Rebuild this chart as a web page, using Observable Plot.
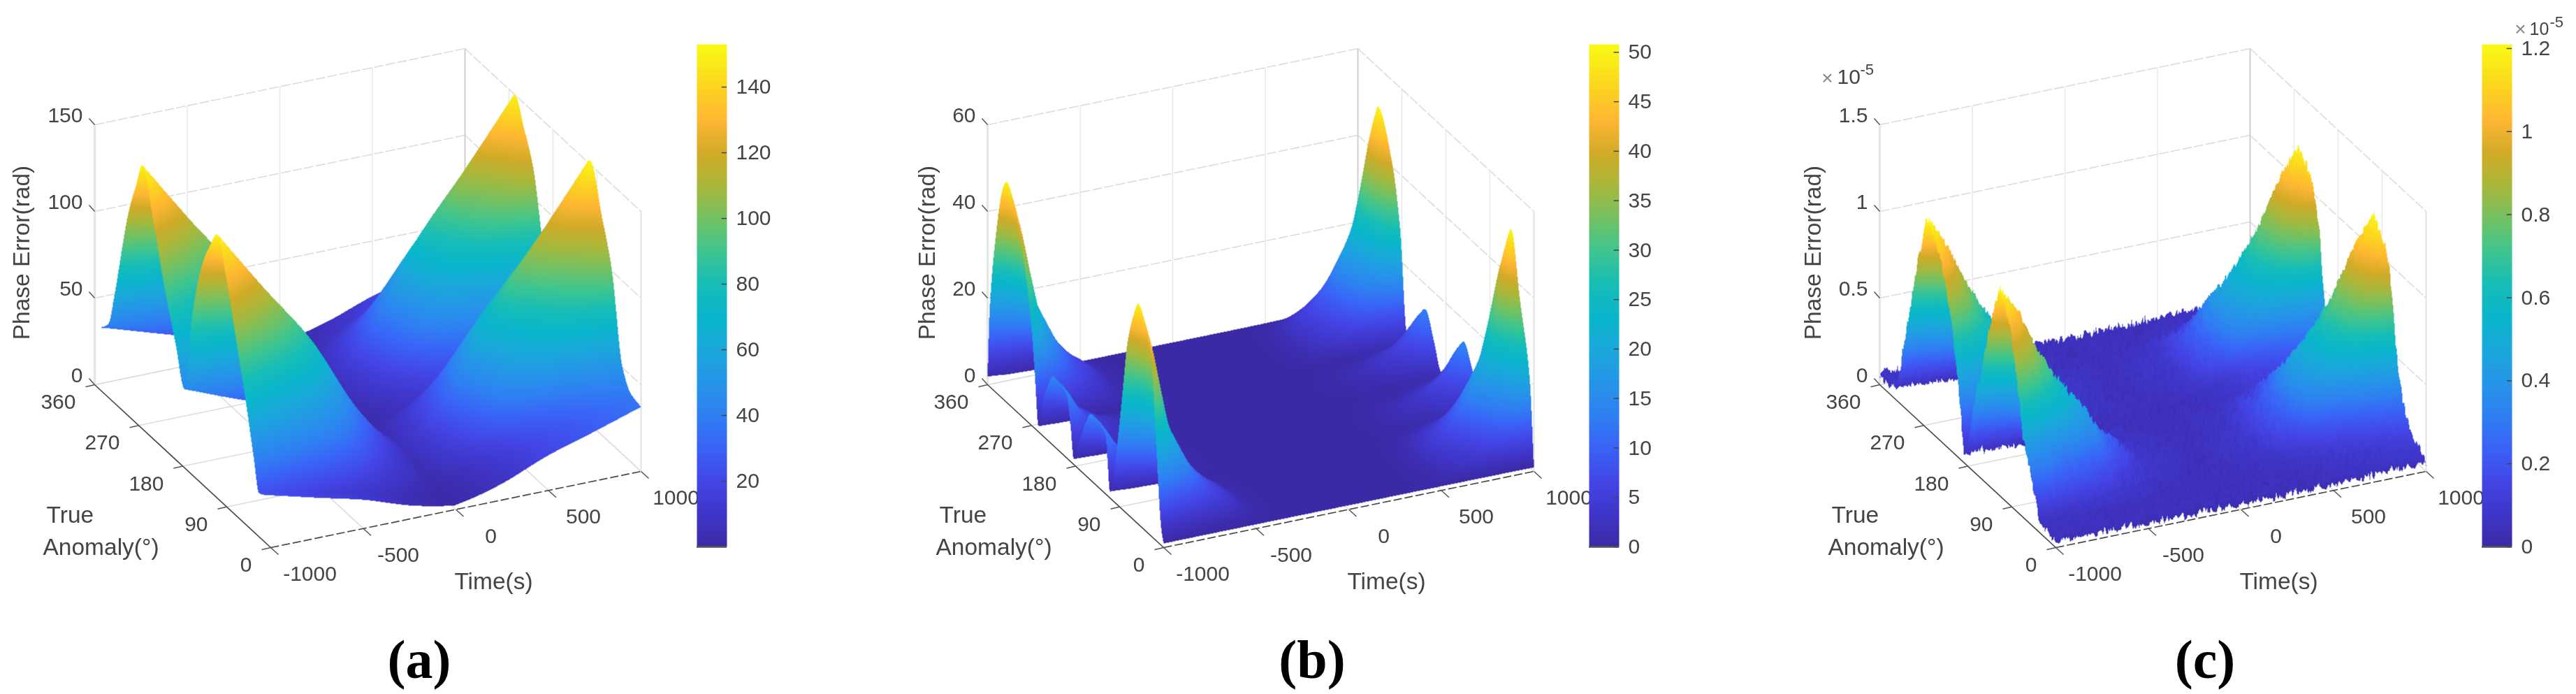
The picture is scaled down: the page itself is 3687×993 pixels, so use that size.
<!DOCTYPE html>
<html><head><meta charset="utf-8">
<script src="https://cdn.jsdelivr.net/npm/d3@7"></script>
<script src="https://cdn.jsdelivr.net/npm/@observablehq/plot@0.6"></script>
<style>
html,body{margin:0;padding:0;background:#fff}
#fig{position:relative;width:3687px;height:993px;overflow:hidden;background:#fff;filter:blur(.6px)}
#fig svg{position:absolute;top:0;background:transparent;max-width:none}
.cap{position:absolute;top:899px;font:bold 78px "Liberation Serif",serif;color:#000;transform:translateX(-50%)}
</style></head><body><div id="fig"></div>
<script>
// Values: phase error cross-sections at t = -1000 s and t = +1000 s against true anomaly,
// and the fall-off of those cross-sections with |time|.
const timeTicks=[-1000,-500,0,500,1000];
const anomalyTicks=[0,90,180,270,360];

const aAnomalyNeg=[0,12,24,35,51,68,91,108,125,143,160,177,194,217,240,262,276,291,320,331,345,360];
const aEdgeNeg=[29,26,24,42,70,96,131,151,140,122,92,44,65,92,125,151,135,116,60,42,36,32];
const aAnomalyPos=[0,20,38,60,80,103,125,143,160,177,190,203,220,240,257,276,291,320,335,345,360];
const aEdgePos=[36,38,49,100,125,151,135,115,85,48,58,82,116,135,149,130,110,60,42,35,32];
const aTime=[0,100,250,500,750,1000];
const aFalloff=[.04,.1,.23,.53,.76,1];
const aZTicks=[0,50,100,150];
const aBarTicks=[20,40,60,80,100,120,140];

const bAnomalyNeg=[0,5,11,17,26,38,51,62,74,84,93,102,110,114,118,132,147,160,173,184,190,198,212,226,237,246,256,263,271,288,305,320,328,345,356,360];
const bEdgeNeg=[0,3,12.7,25.6,41,47,50,46,38.5,26,15,5,.5,6,12.5,14,14.5,11,5,.3,7,13.5,14.8,15,11.5,7.6,.3,11,23,37,46,50,48,33,16,1];
const bAnomalyPos=[0,9,29,46,60,80,100,114,125,143,160,175,189,205,221,240,259,274,290,318,335,350,360];
const bEdgePos=[0,20,36,50,44,27.6,12,5,9,14,9,4,2,8,13.3,9,3,27,40,50,38,15,1];
const bTime=[0,350,472,590,650,740,800,887,934,970,1000];
const bFalloff=[0,.002,.025,.1,.14,.23,.33,.51,.72,.9,1];
const bZTicks=[0,20,40,60];
const bBarTicks=[0,5,10,15,20,25,30,35,40,45,50];

const cAnomalyNeg=[0,27,40,56,67,79,95,113,128,145,165,187,199,227,245,262,280,296,313,324,340,360];
const cEdgeNeg=[.01,.01,.1,.3,.42,.72,1,1.15,.98,.7,.38,.03,.38,.92,1.08,1.16,.9,.6,.27,.08,.02,.02];
const cAnomalyPos=[0,31,48,59,77,90,105,125,145,165,187,206,219,237,260,280,296,313,324,340,360];
const cEdgePos=[.02,.11,.24,.47,.96,1.08,1.15,.98,.7,.4,.18,.34,.81,1.05,1.14,.9,.6,.27,.1,.03,.02];
const cTime=[0,250,288,400,466,558,642,824,900,1000];
const cFalloff=[0,.03,.04,.13,.18,.33,.42,.69,.85,1];
const cZTicks=[0,.5,1,1.5];
const cBarTicks=[0,.2,.4,.6,.8,1,1.2];
// surface roughness of panel (c), in 1e-5 rad
const cRough=[.018,.048,.03,.066,.012,.042,.06,.024,.036,.072,.006,.054,.03,.018,.06,.042,.012,.066,.036,.024,.054,.078,.018,.042,.03,.06,.012,.048,.072,.024,.036,.054,.018,.066,.042,.006,.06,.03,.048,.018,.072,.036,.012,.054,.024,.066,.042,.03,.06,.018,.048,.006,.036,.078,.024,.054,.012,.042,.066,.03];

// colour map as sampled from the colour bars (fractions of the bar's height)
const parulaStops=[0,.065,.13,.196,.261,.327,.392,.458,.523,.588,.654,.719,.784,.85,.915,1];
const parulaColors=["#3b2aa5","#3f35c8","#4346e6","#3a62f7","#2f80f2","#2595e8","#1ba8db","#0ab6cc","#17bdb7","#3ec590","#74c162","#a9b83c","#d2ab28","#ffb733","#fbd51f","#f9fb15"];

const axisGeom={F:[387,783],R:[917,674],L:[135,550],H:372};
const W=1125,H=993;

function curve(xs,ys){ // monotone cubic through the read points, to shade between them
  const n=xs.length,d=[],m=new Array(n);
  for(let i=0;i<n-1;i++)d[i]=(ys[i+1]-ys[i])/(xs[i+1]-xs[i]);
  m[0]=d[0];m[n-1]=d[n-2];
  for(let i=1;i<n-1;i++)m[i]=d[i-1]*d[i]<=0?0:2*d[i-1]*d[i]/(d[i-1]+d[i]);
  return x=>{
    let i=Math.min(n-2,Math.max(0,d3.bisectRight(xs,x)-1));
    const h=xs[i+1]-xs[i],s=(x-xs[i])/h,s2=s*s,s3=s2*s;
    return (2*s3-3*s2+1)*ys[i]+(s3-2*s2+s)*h*m[i]+(-2*s3+3*s2)*ys[i+1]+(s3-s2)*h*m[i+1];
  };
}
const G=axisGeom;
function proj(t,a,zFrac,lift=0){
  const u=(t+1000)/2000,v=a/360;
  return [G.F[0]+u*(G.R[0]-G.F[0])+v*(G.L[0]-G.F[0]),
          G.F[1]+u*(G.R[1]-G.F[1])+v*(G.L[1]-G.F[1])-zFrac*G.H-lift];
}
function surface(p){
  const buf=new Float32Array(W*H).fill(NaN);
  const eN=curve(p.anomalyNeg,p.edgeNeg),eP=curve(p.anomalyPos,p.edgePos),T=curve(p.time,p.falloff);
  const dt=p.dt,da=p.da,nt=Math.round(2000/dt),na=Math.round(360/da);
  const Z=[],PX=[],PY=[];
  for(let j=0;j<=na;j++){
    const a=j*da,zr=[],xr=[],yr=[];
    for(let i=0;i<=nt;i++){
      const t=-1000+i*dt;
      let z=(t<0?eN:eP)(a)*T(Math.abs(t));
      if(p.rough)z+=p.rough[(i*13+j*29+(i*j)%7)%p.rough.length];
      z=Math.max(0,z);
      const q=proj(t,a,z/p.zTop,p.lift);
      zr.push(z);xr.push(q[0]);yr.push(q[1]);
    }
    Z.push(zr);PX.push(xr);PY.push(yr);
  }
  function tri(x0,y0,z0,x1,y1,z1,x2,y2,z2){
    const den=(y1-y2)*(x0-x2)+(x2-x1)*(y0-y2);
    if(Math.abs(den)<1e-9)return;
    const xa=Math.max(0,Math.floor(Math.min(x0,x1,x2))),xb=Math.min(W-1,Math.ceil(Math.max(x0,x1,x2)));
    const ya=Math.max(0,Math.floor(Math.min(y0,y1,y2))),yb=Math.min(H-1,Math.ceil(Math.max(y0,y1,y2)));
    for(let y=ya;y<=yb;y++)for(let x=xa;x<=xb;x++){
      const px=x+.5,py=y+.5;
      const w0=((y1-y2)*(px-x2)+(x2-x1)*(py-y2))/den;
      const w1=((y2-y0)*(px-x2)+(x0-x2)*(py-y2))/den;
      const w2=1-w0-w1;
      if(w0<-.02||w1<-.02||w2<-.02)continue;
      buf[y*W+x]=w0*z0+w1*z1+w2*z2;
    }
  }
  for(let j=na-1;j>=0;j--)for(let i=nt-1;i>=0;i--){
    tri(PX[j][i],PY[j][i],Z[j][i],PX[j][i+1],PY[j][i+1],Z[j][i+1],PX[j+1][i+1],PY[j+1][i+1],Z[j+1][i+1]);
    tri(PX[j][i],PY[j][i],Z[j][i],PX[j+1][i+1],PY[j+1][i+1],Z[j+1][i+1],PX[j+1][i],PY[j+1][i],Z[j+1][i]);
  }
  return buf;
}
function colorScale(max){
  return {type:"linear",domain:parulaStops.map(s=>s*max),range:parulaColors,clamp:true};
}
const seg=(a,b)=>({x1:a[0],y1:a[1],x2:b[0],y2:b[1]});
const LINK={x1:"x1",y1:"y1",x2:"x2",y2:"y2"};
const font='"Liberation Sans",Arial,sans-serif',ink="#444444";

function panel(p){
  const zf=z=>z/p.zTop;
  const wallZ=p.zTicks.flatMap(z=>[seg(proj(-1000,360,zf(z)),proj(1000,360,zf(z))),seg(proj(1000,360,zf(z)),proj(1000,0,zf(z)))]);
  const wallT=timeTicks.slice(1,-1).map(t=>seg(proj(t,360,0),proj(t,360,1)));
  const wallA=anomalyTicks.slice(1,-1).map(a=>seg(proj(1000,a,0),proj(1000,a,1)));
  const floorT=timeTicks.slice(1).map(t=>seg(proj(t,0,0),proj(t,360,0)));
  const floorA=anomalyTicks.slice(1).map(a=>seg(proj(-1000,a,0),proj(1000,a,0)));
  const shift=(q,dx,dy)=>[q[0]+dx,q[1]+dy];
  const zT=p.zTicks.map(z=>({q:proj(-1000,360,zf(z)),s:String(z)}));
  const tT=timeTicks.map(t=>({q:proj(t,0,0),s:String(t)}));
  const aT=anomalyTicks.map(a=>({q:proj(-1000,a,0),s:String(a)}));
  const marks=[
    Plot.link(wallZ,{...LINK,stroke:"#dcdcdc",strokeWidth:1.6,strokeDasharray:"14 3"}),
    Plot.link(floorT.concat(floorA),{...LINK,stroke:"#dcdcdc",strokeWidth:1.6}),
    Plot.link(wallT.concat(wallA),{...LINK,stroke:"#e9e9e9",strokeWidth:1.6}),
    Plot.link([seg(proj(-1000,360,0),proj(-1000,360,1))],{...LINK,stroke:"#e6e6e6",strokeWidth:3.5}),
    Plot.link([seg(proj(1000,360,0),proj(1000,360,1))],{...LINK,stroke:"#cfcfcf",strokeWidth:2}),
    Plot.link([seg(proj(1000,0,0),proj(1000,0,1))],{...LINK,stroke:"#e2e2e2",strokeWidth:2}),
    Plot.link([seg(proj(-1000,360,0),proj(-1000,0,0))],{...LINK,stroke:"#4a4a4a",strokeWidth:1.7}),
    Plot.link([seg(proj(-1000,0,0),proj(1000,0,0))],{...LINK,stroke:"#4a4a4a",strokeWidth:1.7,strokeDasharray:"12 4"}),
    Plot.link(tT.map(d=>seg(d.q,shift(d.q,11,10))),{...LINK,stroke:"#555",strokeWidth:1.5}),
    Plot.link(aT.map(d=>seg(d.q,shift(d.q,-13,3))),{...LINK,stroke:"#555",strokeWidth:1.5}),
    Plot.link(zT.map(d=>seg(d.q,shift(d.q,-8,-9))),{...LINK,stroke:"#555",strokeWidth:1.5}),
    Plot.raster(surface(p),{width:W,height:H,x1:0,x2:W,y1:0,y2:H,fill:Plot.identity,imageRendering:"auto"}),
    Plot.text(tT,{x:d=>d.q[0]+(d.s==="-1000"?56:50),y:d=>d.q[1]+38,text:"s",fontSize:30,fill:ink,fontFamily:font}),
    Plot.text(aT,{x:d=>d.q[0]-27,y:d=>d.q[1]+25,text:"s",textAnchor:"end",fontSize:30,fill:ink,fontFamily:font}),
    Plot.text(zT,{x:d=>d.q[0]-17,y:d=>d.q[1]-13,text:"s",textAnchor:"end",fontSize:30,fill:ink,fontFamily:font}),
    Plot.text([{x:p.labelX,y:361,s:"Phase Error(rad)"}],{x:"x",y:"y",text:"s",rotate:-90,fontSize:33.5,fill:ink,fontFamily:font}),
    Plot.text([{x:66,y:737,s:"True"},{x:61,y:783,s:"Anomaly(°)"}],{x:"x",y:"y",text:"s",textAnchor:"start",fontSize:33.5,fill:ink,fontFamily:font}),
    Plot.text([{x:706,y:832,s:"Time(s)"}],{x:"x",y:"y",text:"s",fontSize:33.5,fill:ink,fontFamily:font})
  ];
  if(p.exp){
    marks.push(
      Plot.text([{x:60,y:112,s:"×"},{x:1052,y:42,s:"×"}],{x:"x",y:"y",text:"s",fontSize:28,fill:"#888",fontFamily:font}),
      Plot.text([{x:74,y:110,s:"10"}],{x:"x",y:"y",text:"s",textAnchor:"start",fontSize:30,fill:ink,fontFamily:font}),
      Plot.text([{x:1065,y:41,s:"10"}],{x:"x",y:"y",text:"s",textAnchor:"start",fontSize:25,fill:ink,fontFamily:font}),
      Plot.text([{x:107,y:99,s:"-5"},{x:1094,y:31,s:"-5"}],{x:"x",y:"y",text:"s",textAnchor:"start",fontSize:22,fill:ink,fontFamily:font})
    );
  }
  const svg=Plot.plot({width:W,height:H,margin:0,
    x:{domain:[0,W],range:[0,W],axis:null},y:{domain:[0,H],range:[0,H],axis:null},
    color:colorScale(p.barMax),marks});
  svg.style.left=p.left+"px";
  return svg;
}
function colorbar(p){
  const levels=d3.range(256).map(i=>p.barMax*(255-i+.5)/256);
  const svg=Plot.plot({width:150,height:H,marginLeft:0,marginRight:107,marginTop:63,marginBottom:H-782,
    x:{domain:[0,1],axis:null},y:{domain:[0,p.barMax],axis:null},
    color:colorScale(p.barMax),
    style:{fontFamily:font,color:ink},
    marks:[
      Plot.raster(levels,{width:1,height:256,x1:0,x2:1,y1:p.barMax,y2:0,fill:Plot.identity,imageRendering:"auto"}),
      Plot.ruleY([0],{stroke:"#555",strokeWidth:2.5}),
      Plot.ruleY(p.barTicks,{x1:.83,x2:1,stroke:"#444",strokeWidth:1.5}),
      Plot.axisY(p.barTicks,{anchor:"right",tickSize:0,tickPadding:13,fontSize:30,label:null,tickFormat:d=>String(d),fill:ink})
    ]});
  svg.style.left=p.barLeft+"px";
  return svg;
}
const panels=[
 {left:0,barLeft:997,labelX:31,lift:3,anomalyNeg:aAnomalyNeg,edgeNeg:aEdgeNeg,anomalyPos:aAnomalyPos,edgePos:aEdgePos,time:aTime,falloff:aFalloff,zTop:150,zTicks:aZTicks,barMax:153,barTicks:aBarTicks,dt:5,da:1},
 {left:1278,barLeft:2274,labelX:49,lift:6,anomalyNeg:bAnomalyNeg,edgeNeg:bEdgeNeg,anomalyPos:bAnomalyPos,edgePos:bEdgePos,time:bTime,falloff:bFalloff,zTop:60,zTicks:bZTicks,barMax:50.8,barTicks:bBarTicks,dt:5,da:1},
 {left:2555,barLeft:3552,labelX:40,lift:0,anomalyNeg:cAnomalyNeg,edgeNeg:cEdgeNeg,anomalyPos:cAnomalyPos,edgePos:cEdgePos,time:cTime,falloff:cFalloff,zTop:1.5,zTicks:cZTicks,barMax:1.21,barTicks:cBarTicks,dt:8,da:2,rough:cRough,exp:true}
];
const fig=document.getElementById("fig");
for(const p of panels){fig.append(panel(p));fig.append(colorbar(p));}
[["(a)",600],["(b)",1878],["(c)",3156]].forEach(([s,x])=>{
  const d=document.createElement("div");d.className="cap";d.textContent=s;d.style.left=x+"px";fig.append(d);
});
</script></body></html>
